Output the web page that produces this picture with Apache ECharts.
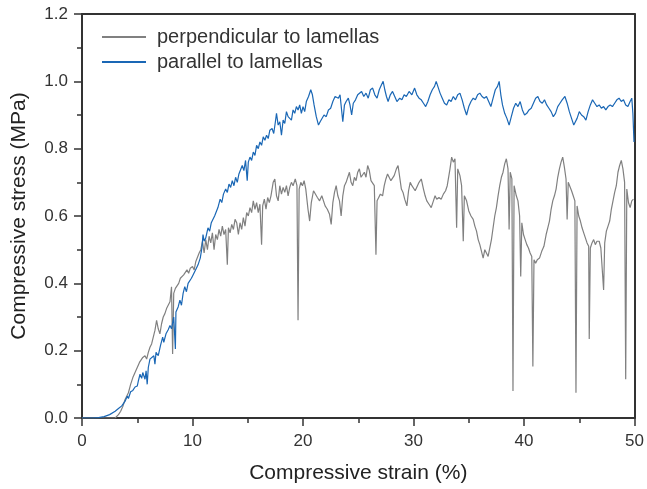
<!DOCTYPE html>
<html>
<head>
<meta charset="utf-8">
<script src="https://cdn.jsdelivr.net/npm/echarts@6/dist/echarts.min.js"></script>
<style>
html,body{margin:0;padding:0;background:#fff;}
#chart{width:647px;height:489px;}
</style>
</head>
<body>
<div id="chart"></div>
<script>
// ---- Data ----
const seriesNames = ['perpendicular to lamellas', 'parallel to lamellas'];
const xTicks = [0, 10, 20, 30, 40, 50];
const yTicks = [0.0, 0.2, 0.4, 0.6, 0.8, 1.0, 1.2];

const strainPerp = [0,2.5,3.0,3.3,3.5,3.7,3.9,4.2,4.4,4.6,4.8,5.0,5.2,5.35,5.5,5.7,5.85,6.0,6.15,6.3,6.45,6.6,6.75,6.9,7.05,7.2,7.35,7.5,7.65,7.8,7.96,8.1,8.2,8.3,8.45,8.6,8.75,8.9,9.05,9.2,9.35,9.5,9.65,9.8,10.0,10.15,10.3,10.45,10.6,10.75,10.9,11.05,11.2,11.35,11.5,11.65,11.8,11.95,12.1,12.25,12.4,12.55,12.7,12.85,13.0,13.15,13.25,13.4,13.55,13.7,13.85,14.0,14.15,14.3,14.45,14.6,14.75,14.9,15.05,15.2,15.35,15.5,15.65,15.8,15.95,16.1,16.25,16.35,16.5,16.65,16.8,16.95,17.1,17.3,17.45,17.6,17.75,17.9,18.05,18.2,18.35,18.5,18.65,18.8,18.95,19.1,19.3,19.45,19.55,19.65,19.8,19.95,20.1,20.25,20.45,20.6,20.75,20.95,21.1,21.3,21.5,21.7,21.85,22.0,22.2,22.4,22.55,22.7,22.85,23.0,23.15,23.3,23.45,23.6,23.75,23.9,24.05,24.2,24.35,24.5,24.65,24.8,24.95,25.1,25.25,25.4,25.55,25.7,25.85,26.0,26.15,26.3,26.45,26.6,26.7,26.85,27.0,27.2,27.35,27.5,27.65,27.8,27.95,28.1,28.25,28.45,28.6,28.75,28.9,29.05,29.2,29.4,29.55,29.7,29.85,30.0,30.15,30.3,30.5,30.7,30.9,31.05,31.2,31.4,31.6,31.8,31.95,32.1,32.3,32.5,32.7,32.9,33.05,33.2,33.3,33.45,33.6,33.75,33.9,34.0,34.2,34.35,34.5,34.6,34.8,35.0,35.2,35.4,35.55,35.7,35.85,36.0,36.15,36.3,36.45,36.6,36.75,36.9,37.05,37.2,37.35,37.5,37.65,37.8,37.95,38.1,38.25,38.4,38.55,38.65,38.75,38.9,39.0,39.1,39.3,39.45,39.6,39.7,39.8,39.95,40.1,40.25,40.4,40.55,40.7,40.8,40.9,41.05,41.2,41.4,41.6,41.8,42.0,42.15,42.3,42.45,42.6,42.75,42.9,43.05,43.2,43.35,43.5,43.65,43.8,43.9,44.0,44.15,44.3,44.45,44.6,44.7,44.8,44.95,45.1,45.25,45.4,45.55,45.7,45.85,45.9,46.0,46.15,46.3,46.45,46.6,46.8,46.95,47.1,47.2,47.3,47.45,47.6,47.75,47.9,48.05,48.2,48.35,48.5,48.65,48.8,48.95,49.1,49.2,49.3,49.45,49.6,49.75,49.9];
const stressPerp = [0,0,0.000,0.010,0.020,0.035,0.055,0.075,0.100,0.120,0.135,0.150,0.165,0.160,0.180,0.185,0.175,0.195,0.210,0.220,0.240,0.260,0.290,0.265,0.250,0.280,0.300,0.310,0.325,0.320,0.345,0.390,0.190,0.370,0.385,0.380,0.400,0.415,0.410,0.425,0.420,0.440,0.430,0.445,0.450,0.440,0.465,0.460,0.490,0.500,0.525,0.490,0.530,0.500,0.540,0.520,0.550,0.500,0.545,0.530,0.560,0.540,0.570,0.545,0.560,0.455,0.565,0.550,0.575,0.560,0.590,0.580,0.545,0.580,0.560,0.595,0.570,0.610,0.600,0.625,0.610,0.645,0.620,0.640,0.610,0.635,0.515,0.630,0.650,0.620,0.655,0.640,0.660,0.700,0.710,0.660,0.645,0.690,0.665,0.685,0.670,0.690,0.660,0.685,0.700,0.690,0.710,0.690,0.290,0.680,0.700,0.690,0.705,0.680,0.620,0.585,0.640,0.675,0.670,0.655,0.645,0.660,0.665,0.630,0.620,0.605,0.575,0.640,0.670,0.690,0.660,0.645,0.600,0.660,0.690,0.700,0.715,0.730,0.700,0.690,0.715,0.705,0.730,0.740,0.715,0.710,0.730,0.715,0.750,0.735,0.705,0.700,0.690,0.485,0.645,0.655,0.665,0.660,0.690,0.710,0.725,0.730,0.705,0.700,0.720,0.740,0.750,0.715,0.680,0.670,0.650,0.630,0.675,0.700,0.690,0.685,0.675,0.680,0.700,0.710,0.680,0.660,0.645,0.635,0.625,0.645,0.660,0.650,0.655,0.650,0.665,0.675,0.690,0.720,0.740,0.775,0.760,0.770,0.565,0.740,0.720,0.690,0.525,0.660,0.645,0.615,0.600,0.590,0.570,0.555,0.530,0.515,0.495,0.475,0.500,0.505,0.480,0.485,0.530,0.565,0.600,0.625,0.660,0.690,0.715,0.730,0.755,0.770,0.740,0.560,0.730,0.710,0.080,0.690,0.660,0.645,0.600,0.420,0.580,0.545,0.530,0.515,0.505,0.490,0.480,0.153,0.470,0.460,0.470,0.475,0.495,0.510,0.545,0.565,0.585,0.620,0.645,0.660,0.680,0.715,0.740,0.760,0.775,0.745,0.710,0.590,0.700,0.695,0.675,0.660,0.645,0.075,0.630,0.600,0.585,0.565,0.550,0.535,0.520,0.510,0.235,0.505,0.520,0.530,0.515,0.525,0.525,0.505,0.500,0.380,0.520,0.555,0.570,0.585,0.620,0.645,0.670,0.690,0.730,0.750,0.765,0.740,0.700,0.115,0.680,0.640,0.625,0.645,0.650];

const strainPara = [0,1.0,1.5,2.0,2.5,3.0,3.3,3.6,3.9,4.1,4.2,4.4,4.6,4.8,5.0,5.1,5.25,5.4,5.5,5.7,5.8,5.9,6.0,6.15,6.3,6.5,6.6,6.7,6.8,6.9,7.1,7.3,7.4,7.6,7.8,7.96,8.1,8.3,8.45,8.5,8.7,8.86,9.0,9.15,9.3,9.45,9.6,9.75,9.9,10.05,10.2,10.35,10.5,10.7,10.85,10.95,11.05,11.2,11.4,11.55,11.7,11.85,12.0,12.15,12.3,12.5,12.65,12.8,13.0,13.15,13.3,13.45,13.6,13.75,13.9,14.05,14.2,14.35,14.5,14.65,14.8,14.95,15.05,15.2,15.35,15.5,15.65,15.8,15.95,16.1,16.25,16.4,16.55,16.7,16.85,17.0,17.2,17.35,17.5,17.6,17.75,17.9,18.05,18.2,18.35,18.5,18.65,18.8,18.95,19.1,19.25,19.4,19.55,19.7,19.85,20.0,20.15,20.3,20.5,20.7,20.85,21.0,21.2,21.4,21.55,21.7,21.9,22.1,22.3,22.5,22.7,22.9,23.05,23.2,23.35,23.5,23.6,23.75,23.9,24.1,24.25,24.4,24.55,24.75,24.95,25.1,25.3,25.5,25.7,25.9,26.1,26.3,26.5,26.7,26.9,27.1,27.25,27.4,27.55,27.7,27.9,28.1,28.3,28.5,28.75,28.95,29.15,29.35,29.6,29.85,30.1,30.3,30.5,30.7,30.9,31.1,31.3,31.5,31.7,31.9,32.05,32.2,32.4,32.6,32.8,33.0,33.2,33.4,33.6,33.8,34.0,34.2,34.4,34.6,34.8,35.0,35.2,35.4,35.6,35.8,36.0,36.2,36.4,36.6,36.8,37.0,37.2,37.4,37.6,37.75,37.9,38.05,38.25,38.45,38.65,38.85,39.05,39.25,39.45,39.65,39.85,40.05,40.25,40.45,40.65,40.85,41.05,41.25,41.45,41.65,41.85,42.05,42.25,42.45,42.65,42.85,43.05,43.25,43.45,43.7,43.9,44.1,44.3,44.5,44.65,44.8,45.0,45.2,45.4,45.6,45.8,46.0,46.2,46.4,46.6,46.8,47.0,47.2,47.4,47.6,47.8,48.0,48.2,48.4,48.6,48.8,49.0,49.2,49.4,49.6,49.75,49.85,49.95];
const stressPara = [0,0,0.001,0.004,0.010,0.020,0.028,0.036,0.050,0.065,0.058,0.078,0.082,0.092,0.095,0.110,0.130,0.118,0.135,0.115,0.140,0.100,0.150,0.175,0.170,0.185,0.160,0.195,0.200,0.185,0.215,0.240,0.225,0.250,0.262,0.275,0.265,0.300,0.205,0.315,0.330,0.350,0.335,0.370,0.390,0.375,0.400,0.395,0.415,0.425,0.430,0.445,0.455,0.475,0.505,0.545,0.525,0.535,0.565,0.555,0.580,0.585,0.600,0.595,0.625,0.650,0.640,0.665,0.680,0.670,0.695,0.685,0.705,0.690,0.715,0.700,0.725,0.720,0.750,0.735,0.765,0.705,0.760,0.775,0.765,0.790,0.780,0.810,0.800,0.820,0.810,0.835,0.825,0.840,0.830,0.855,0.860,0.845,0.880,0.905,0.870,0.880,0.840,0.885,0.875,0.910,0.895,0.900,0.885,0.915,0.905,0.925,0.915,0.930,0.905,0.925,0.910,0.940,0.955,0.975,0.960,0.930,0.895,0.870,0.880,0.885,0.900,0.895,0.915,0.920,0.940,0.955,0.960,0.950,0.960,0.955,0.880,0.930,0.940,0.950,0.930,0.900,0.935,0.945,0.960,0.955,0.970,0.955,0.965,0.950,0.975,0.980,0.960,0.950,0.975,0.990,1.000,0.975,0.955,0.940,0.960,0.970,0.955,0.940,0.950,0.945,0.960,0.955,0.970,0.960,0.980,0.960,0.950,0.945,0.935,0.925,0.940,0.960,0.975,0.985,1.000,0.985,0.965,0.950,0.935,0.930,0.945,0.940,0.955,0.945,0.960,0.965,0.945,0.920,0.900,0.925,0.940,0.950,0.945,0.960,0.965,0.955,0.950,0.955,0.940,0.925,0.950,0.975,0.985,1.000,0.960,0.930,0.905,0.890,0.870,0.895,0.920,0.935,0.925,0.940,0.915,0.900,0.905,0.915,0.920,0.935,0.950,0.955,0.940,0.935,0.945,0.930,0.920,0.910,0.895,0.905,0.925,0.935,0.945,0.955,0.935,0.910,0.890,0.870,0.865,0.890,0.910,0.900,0.895,0.885,0.910,0.930,0.945,0.935,0.925,0.930,0.920,0.925,0.915,0.925,0.930,0.925,0.935,0.945,0.950,0.940,0.945,0.930,0.925,0.940,0.950,0.905,0.820];

// ---- Chart ----
const pairs = (xs, ys) => xs.map((x, i) => [x, ys[i]]);
const FONT = '"Liberation Sans", Arial, Helvetica, sans-serif';
const AXIS_COLOR = '#333333';
const TEXT_COLOR = '#333333';

const chart = echarts.init(document.getElementById('chart'), null, {renderer: 'canvas'});
const option = {
  animation: false,
  backgroundColor: '#ffffff',
  textStyle: {fontFamily: FONT},
  grid: {left: 82, right: 11.5, top: 14, bottom: 67, containLabel: false},
  legend: {
    data: seriesNames,
    orient: 'vertical',
    left: 102,
    top: 27,
    padding: 0,
    itemWidth: 44,
    itemHeight: 2,
    itemGap: 5,
    icon: 'rect',
    textStyle: {fontSize: 20, color: TEXT_COLOR, fontFamily: FONT, padding: [0, 0, 0, 6]}
  },
  xAxis: [{
    type: 'value',
    min: xTicks[0],
    max: xTicks[xTicks.length - 1],
    interval: 10,
    name: 'Compressive strain (%)',
    nameLocation: 'middle',
    nameGap: 45,
    nameTextStyle: {fontSize: 21, color: '#222', fontFamily: FONT},
    axisLine: {show: true, onZero: false, lineStyle: {color: AXIS_COLOR, width: 2}},
    axisTick: {show: true, inside: false, length: 8, lineStyle: {color: AXIS_COLOR, width: 1.5}},
    minorTick: {show: true, splitNumber: 2, length: 5, lineStyle: {color: AXIS_COLOR, width: 1.5}},
    axisLabel: {fontSize: 17, color: TEXT_COLOR, margin: 15, fontFamily: FONT},
    splitLine: {show: false}
  }, {
    type: 'value',
    position: 'top',
    min: 0, max: 50,
    axisLine: {show: true, onZero: false, lineStyle: {color: AXIS_COLOR, width: 2}},
    axisTick: {show: false}, axisLabel: {show: false}, splitLine: {show: false}
  }],
  yAxis: [{
    type: 'value',
    min: yTicks[0],
    max: yTicks[yTicks.length - 1],
    interval: 0.2,
    name: 'Compressive stress (MPa)',
    nameLocation: 'middle',
    nameGap: 52,
    nameTextStyle: {fontSize: 21, color: '#222', fontFamily: FONT},
    axisLine: {show: true, onZero: false, lineStyle: {color: AXIS_COLOR, width: 2}},
    axisTick: {show: true, inside: false, length: 8, lineStyle: {color: AXIS_COLOR, width: 1.5}},
    minorTick: {show: true, splitNumber: 2, length: 5, lineStyle: {color: AXIS_COLOR, width: 1.5}},
    axisLabel: {fontSize: 17, color: TEXT_COLOR, margin: 14, fontFamily: FONT, formatter: v => v.toFixed(1)},
    splitLine: {show: false}
  }, {
    type: 'value',
    position: 'right',
    min: 0, max: 1.2,
    axisLine: {show: true, onZero: false, lineStyle: {color: AXIS_COLOR, width: 2}},
    axisTick: {show: false}, axisLabel: {show: false}, splitLine: {show: false}
  }],
  series: [{
    name: seriesNames[0],
    type: 'line',
    data: pairs(strainPerp, stressPerp),
    showSymbol: false,
    symbol: 'none',
    color: '#808080',
    lineStyle: {width: 1.2, color: '#808080'},
    z: 2
  }, {
    name: seriesNames[1],
    type: 'line',
    data: pairs(strainPara, stressPara),
    showSymbol: false,
    symbol: 'none',
    color: '#1a67b5',
    lineStyle: {width: 1.2, color: '#1a67b5'},
    z: 3
  }]
};
chart.setOption(option);
</script>
</body>
</html>
